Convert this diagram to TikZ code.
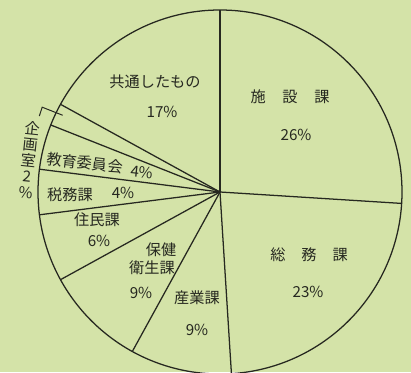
\documentclass[tikz,border=0pt]{standalone}
\usepackage{fontspec}
\setmainfont{Noto Sans CJK JP}
\usetikzlibrary{positioning}
\definecolor{paper}{RGB}{212,227,168}
\definecolor{ink}{RGB}{38,40,32}

\tikzset{
	slicename/.style={font=\fontsize{10.8}{12.5}\selectfont, text=ink, inner sep=1pt},
	pieline/.style={draw=ink, line width=0.9pt}
}

\begin{document}
\begin{tikzpicture}[x=0.025cm, y=0.025cm]
	
	\useasboundingbox[fill=paper] (-220,-180) rectangle (191,192);
	\clip (-220,-180) rectangle (191,192);
	
	\coordinate (o) at (0,0);
	\draw [pieline] (o) circle [radius=182];
	
	% slice borders, clockwise from the top
	\foreach \p in {0,26,49,58,67,73,77,81,83}{
		\draw [pieline] (o) -- ({90-3.6*\p}:182) coordinate (b\p);
	}
	
	% bracket for the small slice
	\draw [pieline, line width=0.7pt] (154:175) -- (154.5:197) -- (157.2:196);
	
	\node [slicename] (kyotsu) at (-65,110) {共通したもの};
	\node [slicename] (kyotsup) at (-58,80) {17\%};
	
	\node [slicename] (shisetsu) at (70,95) {施\hspace{1.1em}設\hspace{1.1em}課};
	\node [slicename] (shisetsup) at (76,57) {26\%};
	
	\node [slicename] (somu) at (89,-63) {総\hspace{1.05em}務\hspace{1.05em}課};
	\node [slicename] (somup) at (88,-100) {23\%};
	
	\node [slicename] (sangyo) at (-23,-106) {産業課};
	\node [slicename] (sangyop) at (-23,-138) {9\%};
	
	\node [slicename, align=center] (hoken) at (-68,-67) {\hspace{1.2em}保健\\衛生課};
	\node [slicename] (hokenp) at (-79,-101) {9\%};
	
	\node [slicename] (jumin) at (-123,-28) {住民課};
	\node [slicename] (juminp) at (-121,-49) {6\%};
	
	\node [slicename] (zeimu) at (-150,-3) {税務課};
	\node [slicename] (zeimup) at (-97,-1) {4\%};
	
	\node [slicename, rotate=-6] (kyoiku) at (-135,29) {教育委員会};
	\node [slicename, rotate=-6] (kyoikup) at (-78,20) {4\%};
	
	\node [slicename, align=center, rotate=-6, font=\fontsize{10.8}{11.5}\selectfont] (kikaku) at (-191,32) {企\\画\\室\\2\\\%};
	
\end{tikzpicture}
\end{document}
